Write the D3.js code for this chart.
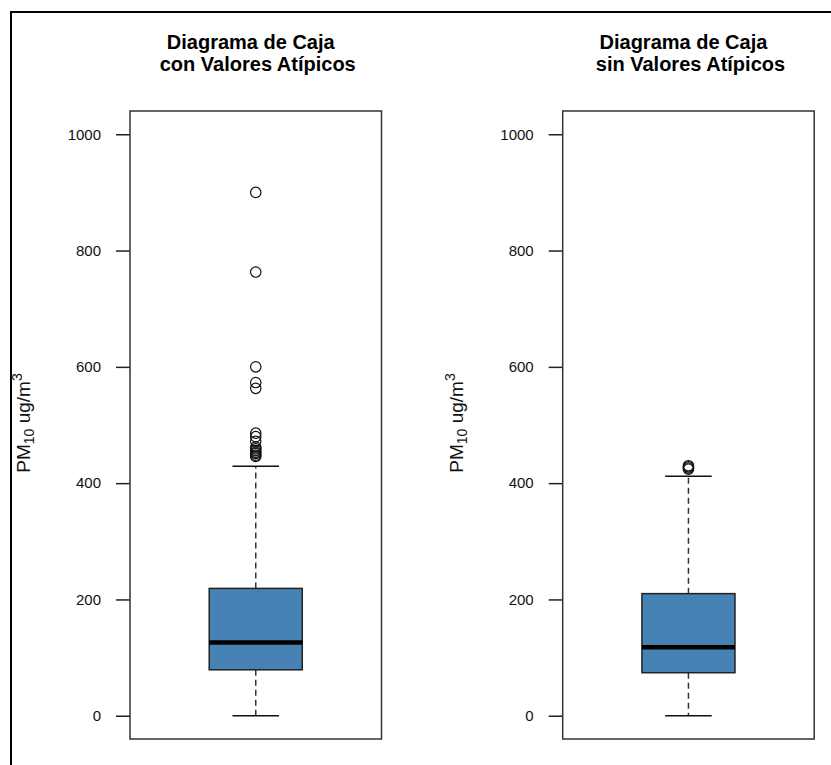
<!DOCTYPE html>
<html>
<head>
<meta charset="utf-8">
<script src="https://cdn.jsdelivr.net/npm/d3@7/dist/d3.min.js"></script>
<style>
  html, body { margin: 0; padding: 0; background: #fff; }
  svg { display: block; font-family: "Liberation Sans", Arial, sans-serif; }
</style>
</head>
<body>
<svg id="chart" width="831" height="765"></svg>
<script>
// Panel titles (two lines each)
const titleLine1 = ["Diagrama de Caja", "Diagrama de Caja"];
const titleLine2 = ["con Valores Atípicos", "sin Valores Atípicos"];

// Five-number summaries of PM10 (ug/m3) per panel
const lowerWhisker = [0, 0];
const q1 = [79, 74];
const median = [126, 118];
const q3 = [219, 210];
const upperWhisker = [429, 412];

// Points beyond the whiskers
const outliersCon = [446, 448, 451, 453, 456, 459, 462, 472, 480, 486, 563, 573, 600, 763, 900];
const outliersSin = [424, 426, 428, 430];
const outliers = [outliersCon, outliersSin];

// Axis ticks
const yTicks = [0, 200, 400, 600, 800, 1000];

const svg = d3.select("#chart");

// Outer frame
svg.append("line").attr("x1", 11).attr("x2", 11).attr("y1", 12).attr("y2", 765)
  .attr("stroke", "#000").attr("stroke-width", 2);
svg.append("line").attr("x1", 10).attr("x2", 831).attr("y1", 12).attr("y2", 12)
  .attr("stroke", "#000").attr("stroke-width", 2);

const panelLeft = [130, 562.7];
const panelWidth = 251.5;

const y = d3.scaleLinear().domain([-40, 1040]).range([739, 111]);

panelLeft.forEach((left, i) => {
  const g = svg.append("g");
  const x = d3.scaleLinear().domain([0.5, 1.5]).range([left, left + panelWidth]);
  const cx = x(1);
  const boxHalf = 0.185;
  const capHalf = boxHalf / 2;

  // Titles
  g.append("text").attr("x", cx - 5).attr("y", 49)
    .attr("text-anchor", "middle").attr("font-size", 20).attr("font-weight", "bold")
    .text(titleLine1[i]);
  g.append("text").attr("x", cx + 2).attr("y", 71)
    .attr("text-anchor", "middle").attr("font-size", 20).attr("font-weight", "bold")
    .text(titleLine2[i]);

  // Y axis
  const axis = d3.axisLeft(y).tickValues(yTicks).tickSize(14).tickPadding(15)
    .tickFormat(d3.format("d"));
  const ax = g.append("g").attr("transform", `translate(${left},0)`).call(axis);
  ax.select(".domain").remove();
  ax.selectAll(".tick line").attr("stroke", "#222").attr("stroke-width", 1.5);
  ax.selectAll(".tick text").attr("fill", "#111").attr("font-size", 15)
    .attr("font-family", "Liberation Sans, Arial, sans-serif");

  // Y axis title with subscript and superscript
  const yl = g.append("text")
    .attr("transform", `translate(${left - 100},423) rotate(-90)`)
    .attr("text-anchor", "middle").attr("font-size", 19).attr("fill", "#111");
  yl.append("tspan").text("PM");
  yl.append("tspan").attr("font-size", 14).attr("dy", 4).text("10");
  yl.append("tspan").attr("dy", -4).text(" ug/m");
  yl.append("tspan").attr("font-size", 14).attr("dy", -8).text("3");

  // Whiskers (dashed)
  g.append("line").attr("x1", cx).attr("x2", cx)
    .attr("y1", y(q3[i])).attr("y2", y(upperWhisker[i]))
    .attr("stroke", "#333").attr("stroke-width", 1.5).attr("stroke-dasharray", "6,4");
  g.append("line").attr("x1", cx).attr("x2", cx)
    .attr("y1", y(q1[i])).attr("y2", y(lowerWhisker[i]))
    .attr("stroke", "#333").attr("stroke-width", 1.5).attr("stroke-dasharray", "6,4");

  // Caps
  [lowerWhisker[i], upperWhisker[i]].forEach(v => {
    g.append("line").attr("x1", x(1 - capHalf)).attr("x2", x(1 + capHalf))
      .attr("y1", y(v)).attr("y2", y(v))
      .attr("stroke", "#111").attr("stroke-width", 1.5);
  });

  // Box
  g.append("rect").attr("x", x(1 - boxHalf)).attr("y", y(q3[i]))
    .attr("width", x(1 + boxHalf) - x(1 - boxHalf))
    .attr("height", y(q1[i]) - y(q3[i]))
    .attr("fill", "#4682B4").attr("stroke", "#222").attr("stroke-width", 1.5);

  // Median
  g.append("line").attr("x1", x(1 - boxHalf)).attr("x2", x(1 + boxHalf))
    .attr("y1", y(median[i])).attr("y2", y(median[i]))
    .attr("stroke", "#000").attr("stroke-width", 4.5);

  // Outliers
  g.selectAll("circle.out").data(outliers[i]).join("circle")
    .attr("class", "out")
    .attr("cx", cx).attr("cy", d => y(d)).attr("r", 5.2)
    .attr("fill", "none").attr("stroke", "#111").attr("stroke-width", 1.2);

  // Plot frame
  g.append("rect").attr("x", left).attr("y", 111)
    .attr("width", panelWidth).attr("height", 739 - 111)
    .attr("fill", "none").attr("stroke", "#333").attr("stroke-width", 1.5);
});
</script>
</body>
</html>
